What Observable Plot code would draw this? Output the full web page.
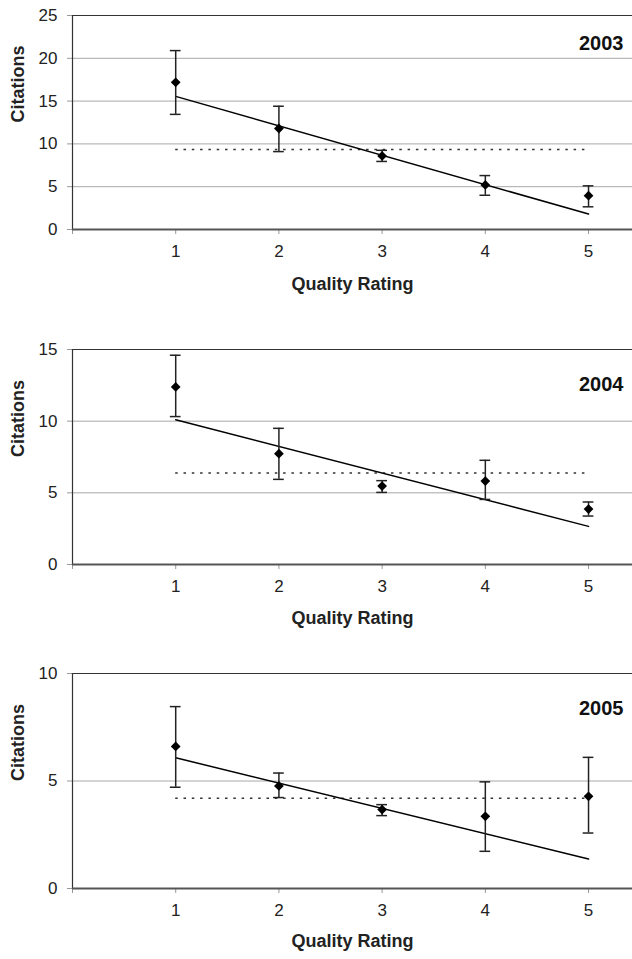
<!DOCTYPE html>
<html>
<head>
<meta charset="utf-8">
<script src="https://cdn.jsdelivr.net/npm/d3@7"></script>
<script src="https://cdn.jsdelivr.net/npm/@observablehq/plot@0.6"></script>
<style>
  html, body { margin: 0; padding: 0; background: white; }
  #chart svg { display: block; }
</style>
</head>
<body>
<div id="chart"></div>
<script>
// Quality rating categories and x tick values
const ratings = [1, 2, 3, 4, 5];
const xTicks = [0, 1, 2, 3, 4, 5];

// 2003
const mean2003 = [17.2, 11.8, 8.6, 5.2, 3.95];
const hi2003 = [20.9, 14.4, 9.25, 6.3, 5.1];
const lo2003 = [13.45, 9.1, 7.95, 4.0, 2.65];
const trend2003 = [15.55, 1.8];
const avg2003 = 9.35;
const yTicks2003 = [0, 5, 10, 15, 20, 25];

// 2004
const mean2004 = [12.39, 7.73, 5.47, 5.82, 3.87];
const hi2004 = [14.6, 9.5, 5.85, 7.27, 4.36];
const lo2004 = [10.32, 5.94, 5.03, 4.54, 3.38];
const trend2004 = [10.1, 2.66];
const avg2004 = 6.38;
const yTicks2004 = [0, 5, 10, 15];

// 2005
const mean2005 = [6.61, 4.77, 3.67, 3.36, 4.29];
const hi2005 = [8.46, 5.37, 3.9, 4.96, 6.1];
const lo2005 = [4.71, 4.23, 3.39, 1.73, 2.58];
const trend2005 = [6.08, 1.37];
const avg2005 = 4.2;
const yTicks2005 = [0, 5, 10];

function panel({year, mean, hi, lo, trend, avg, yTicks, height, marginTop, marginBottom, yearDy, titleDy}) {
  const yMax = yTicks[yTicks.length - 1];
  const pts = ratings.map((r, i) => ({r, m: mean[i], lo: lo[i], hi: hi[i]}));
  const caps = pts.flatMap(d => [{r: d.r, v: d.lo}, {r: d.r, v: d.hi}]);
  const trendPts = [{r: ratings[0], v: trend[0]}, {r: ratings[ratings.length - 1], v: trend[1]}];
  return Plot.plot({
    width: 632,
    height,
    marginLeft: 72,
    marginRight: 0,
    marginTop,
    marginBottom,
    style: {fontFamily: "'Liberation Sans', Arial, sans-serif", fontSize: "17px", background: "white", color: "#222"},
    x: {domain: [0, 5.426], axis: null},
    y: {domain: [0, yMax], axis: null},
    marks: [
      Plot.ruleY(yTicks.filter(t => t > 0 && t < yMax), {stroke: "#a8a8a8", strokeWidth: 1}),
      Plot.ruleY([yMax], {stroke: "#333", strokeWidth: 1.2}),
      Plot.axisY({ticks: yTicks, tickSize: 5, tickPadding: 10, fontSize: 17, stroke: "#999", fill: "#222", label: null}),
      Plot.axisX({ticks: xTicks, tickFormat: d => d === 0 ? "" : d, tickSize: 5, tickPadding: 10, fontSize: 17, stroke: "#999", fill: "#222", label: null}),
      Plot.ruleX([0], {stroke: "#333", strokeWidth: 1.2}),
      Plot.ruleY([0], {stroke: "#555", strokeWidth: 2}),
      Plot.ruleY([avg], {x1: ratings[0], x2: ratings[ratings.length - 1], stroke: "#333", strokeWidth: 1.5, strokeDasharray: "2.5,5.8"}),
      Plot.line(trendPts, {x: "r", y: "v", stroke: "black", strokeWidth: 1.5}),
      Plot.ruleX(pts, {x: "r", y1: "lo", y2: "hi", stroke: "#222", strokeWidth: 1.5}),
      Plot.ruleY(caps, {y: "v", x1: d => d.r - 0.052, x2: d => d.r + 0.052, stroke: "#222", strokeWidth: 1.5}),
      Plot.dot(pts, {x: "r", y: "m", symbol: "diamond2", r: 4.4, fill: "black", stroke: "none"}),
      Plot.text([year], {frameAnchor: "top-right", dx: -9, dy: yearDy, textAnchor: "end", fontWeight: "bold", fontSize: 20, fill: "#111"}),
      Plot.text(["Citations"], {frameAnchor: "left", dx: -54, rotate: -90, fontWeight: "bold", fontSize: 18, fill: "#222"}),
      Plot.text(["Quality Rating"], {frameAnchor: "bottom", dy: titleDy, fontWeight: "bold", fontSize: 18, fill: "#222"})
    ]
  });
}

const chart = document.getElementById("chart");
chart.append(panel({year: "2003", mean: mean2003, hi: hi2003, lo: lo2003, trend: trend2003, avg: avg2003, yTicks: yTicks2003,
  height: 320, marginTop: 15, marginBottom: 91, yearDy: 20, titleDy: 60}));
chart.append(panel({year: "2004", mean: mean2004, hi: hi2004, lo: lo2004, trend: trend2004, avg: avg2004, yTicks: yTicks2004,
  height: 320, marginTop: 29, marginBottom: 76, yearDy: 27, titleDy: 59}));
chart.append(panel({year: "2005", mean: mean2005, hi: hi2005, lo: lo2005, trend: trend2005, avg: avg2005, yTicks: yTicks2005,
  height: 319, marginTop: 33, marginBottom: 71, yearDy: 27, titleDy: 58}));
</script>
</body>
</html>
